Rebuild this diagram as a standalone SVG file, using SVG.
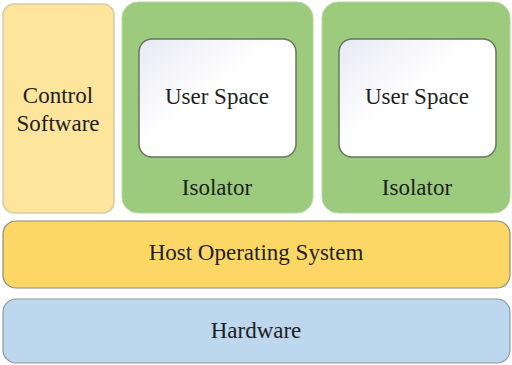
<svg xmlns="http://www.w3.org/2000/svg" width="512" height="365" viewBox="0 0 512 365">
  <defs>
    <linearGradient id="userGrad" x1="0" y1="0" x2="1" y2="1">
      <stop offset="0" stop-color="#e8e8f4"/>
      <stop offset="0.45" stop-color="#ffffff"/>
      <stop offset="1" stop-color="#ffffff"/>
    </linearGradient>
  </defs>
  <style>
    .lbl { font-size: 23px; fill: #1e1e1e; text-anchor: middle; }
    .ctrl { fill: #fde59b; stroke: #d8cba8; stroke-width: 1.5; }
    .iso { fill: #9ccb7d; stroke: #b5d6a0; stroke-width: 1; }
    .user { fill: url(#userGrad); stroke: #6b7560; stroke-width: 1.5; }
    .host { fill: #fdd766; stroke: #8a8a7a; stroke-width: 1.2; }
    .hw { fill: #bdd7ee; stroke: #8e99a4; stroke-width: 1.2; }
  </style>
  <rect width="512" height="365" fill="#ffffff"/>

  <g id="control-software">
    <rect class="ctrl" x="3" y="4" width="111" height="209" rx="11"/>
    <text class="lbl" x="58" y="103" style="font-family: 'Liberation Serif', serif">Control</text>
    <text class="lbl" x="58" y="131" style="font-family: 'Liberation Serif', serif">Software</text>
  </g>

  <g id="isolator-1">
    <rect class="iso" x="122" y="2" width="191" height="211" rx="16"/>
    <text class="lbl" x="217" y="195" style="font-family: 'Liberation Serif', serif">Isolator</text>
  </g>
  <g id="user-space-1">
    <rect class="user" x="139" y="39" width="157" height="118" rx="13"/>
    <text class="lbl" x="217" y="104" style="font-family: 'Liberation Serif', serif">User Space</text>
  </g>

  <g id="isolator-2">
    <rect class="iso" x="322" y="2" width="188" height="211" rx="16"/>
    <text class="lbl" x="417" y="195" style="font-family: 'Liberation Serif', serif">Isolator</text>
  </g>
  <g id="user-space-2">
    <rect class="user" x="339" y="39" width="157" height="118" rx="13"/>
    <text class="lbl" x="417" y="104" style="font-family: 'Liberation Serif', serif">User Space</text>
  </g>

  <g id="host-os">
    <rect class="host" x="3" y="221" width="507" height="67" rx="13"/>
    <text class="lbl" x="256" y="260" style="font-family: 'Liberation Serif', serif">Host Operating System</text>
  </g>

  <g id="hardware">
    <rect class="hw" x="3" y="299" width="507" height="64" rx="13"/>
    <text class="lbl" x="256" y="338" style="font-family: 'Liberation Serif', serif">Hardware</text>
  </g>

  <g id="connectors"/>
</svg>
